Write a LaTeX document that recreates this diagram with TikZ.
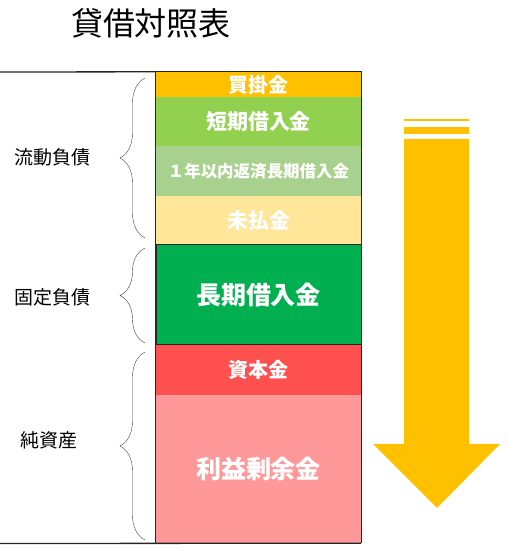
\documentclass[tikz,border=0pt]{standalone}
\usepackage{fontspec}
\usepackage{xcolor}
\usetikzlibrary{decorations.pathreplacing}
\newfontfamily\jpfont{Noto Sans CJK JP}

\definecolor{kaikakeC}{HTML}{FFC000}
\definecolor{tankiC}{HTML}{92D050}
\definecolor{ichinenC}{HTML}{A9D18E}
\definecolor{miharaiC}{HTML}{FFE699}
\definecolor{chokiC}{HTML}{00B050}
\definecolor{shihonC}{HTML}{FF5050}
\definecolor{riekiC}{HTML}{FF9999}

\tikzset{
  seg/.style={rectangle, inner sep=0pt, minimum width=205pt, text=white, font=\jpfont\bfseries},
  lbl/.style={inner sep=0pt, font=\jpfont\fontsize{19}{19}\selectfont},
  kakko/.style={draw=black!75, thin, decorate, decoration={brace, amplitude=25pt}}
}

\begin{document}
\begin{tikzpicture}[x=1pt,y=1pt]
\useasboundingbox (0,0) rectangle (508,550);
\node[inner sep=0pt, font=\jpfont\fontsize{32}{32}\selectfont](title) at (151,527){貸借対照表};

% right column
\node[seg, fill=kaikakeC, minimum height=25pt, font=\jpfont\bfseries\fontsize{20}{20}\selectfont](kaikake) at (258.5,465.5){買掛金};
\node[seg, fill=tankiC, minimum height=49pt, font=\jpfont\bfseries\fontsize{21}{21}\selectfont](tanki) at (258.5,428.5){短期借入金};
\node[seg, fill=ichinenC, minimum height=50pt, font=\jpfont\bfseries\fontsize{16.5}{16.5}\selectfont](ichinen) at (258.5,379){１年以内返済長期借入金};
\node[seg, fill=miharaiC, minimum height=49pt, font=\jpfont\bfseries\fontsize{21}{21}\selectfont](miharai) at (258.5,329.5){未払金};
\node[seg, fill=chokiC, draw=black!85, line width=1pt, minimum height=100pt, font=\jpfont\bfseries\fontsize{25}{25}\selectfont](choki) at (258.5,255){長期借入金};
\node[seg, fill=shihonC, minimum height=50pt, font=\jpfont\bfseries\fontsize{20}{20}\selectfont](shihon) at (258.5,180){資本金};
\node[seg, fill=riekiC, minimum height=148pt, font=\jpfont\bfseries\fontsize{25}{25}\selectfont](rieki) at (258.5,81){利益剰余金};
\draw[black!85, line width=1pt] (kaikake.north west) -- (kaikake.north east) -- (rieki.south east);
\draw[black!85, line width=1pt] (kaikake.north west) -- (rieki.south west);
\draw[black!85, line width=1.3pt] (0,478) -- (kaikake.north west);
\draw[black!85, line width=1.3pt] (0,6.5) -- (rieki.south east);

% braces
\coordinate (b1s) at (145,312);
\coordinate (b1e) at (145,472);
\coordinate (b2s) at (145,207);
\coordinate (b2e) at (145,302);
\coordinate (b3s) at (145,10);
\coordinate (b3e) at (145,198);
\draw[kakko] (b1s) -- (b1e);
\draw[kakko] (b2s) -- (b2e);
\draw[kakko] (b3s) -- (b3e);
\node[lbl](ryudo) at (53,393){流動負債};
\node[lbl](kotei) at (53,253){固定負債};
\node[lbl](junshisan) at (49,110){純資産};

% arrow
\fill[kaikakeC] (404,429) rectangle (469,431);
\fill[kaikakeC] (404,416) rectangle (469,423);
\fill[kaikakeC] (404,411) -- (469,411) -- (469,106) -- (500,106) -- (437,42) -- (373,106) -- (404,106) -- cycle;
\end{tikzpicture}
\end{document}
